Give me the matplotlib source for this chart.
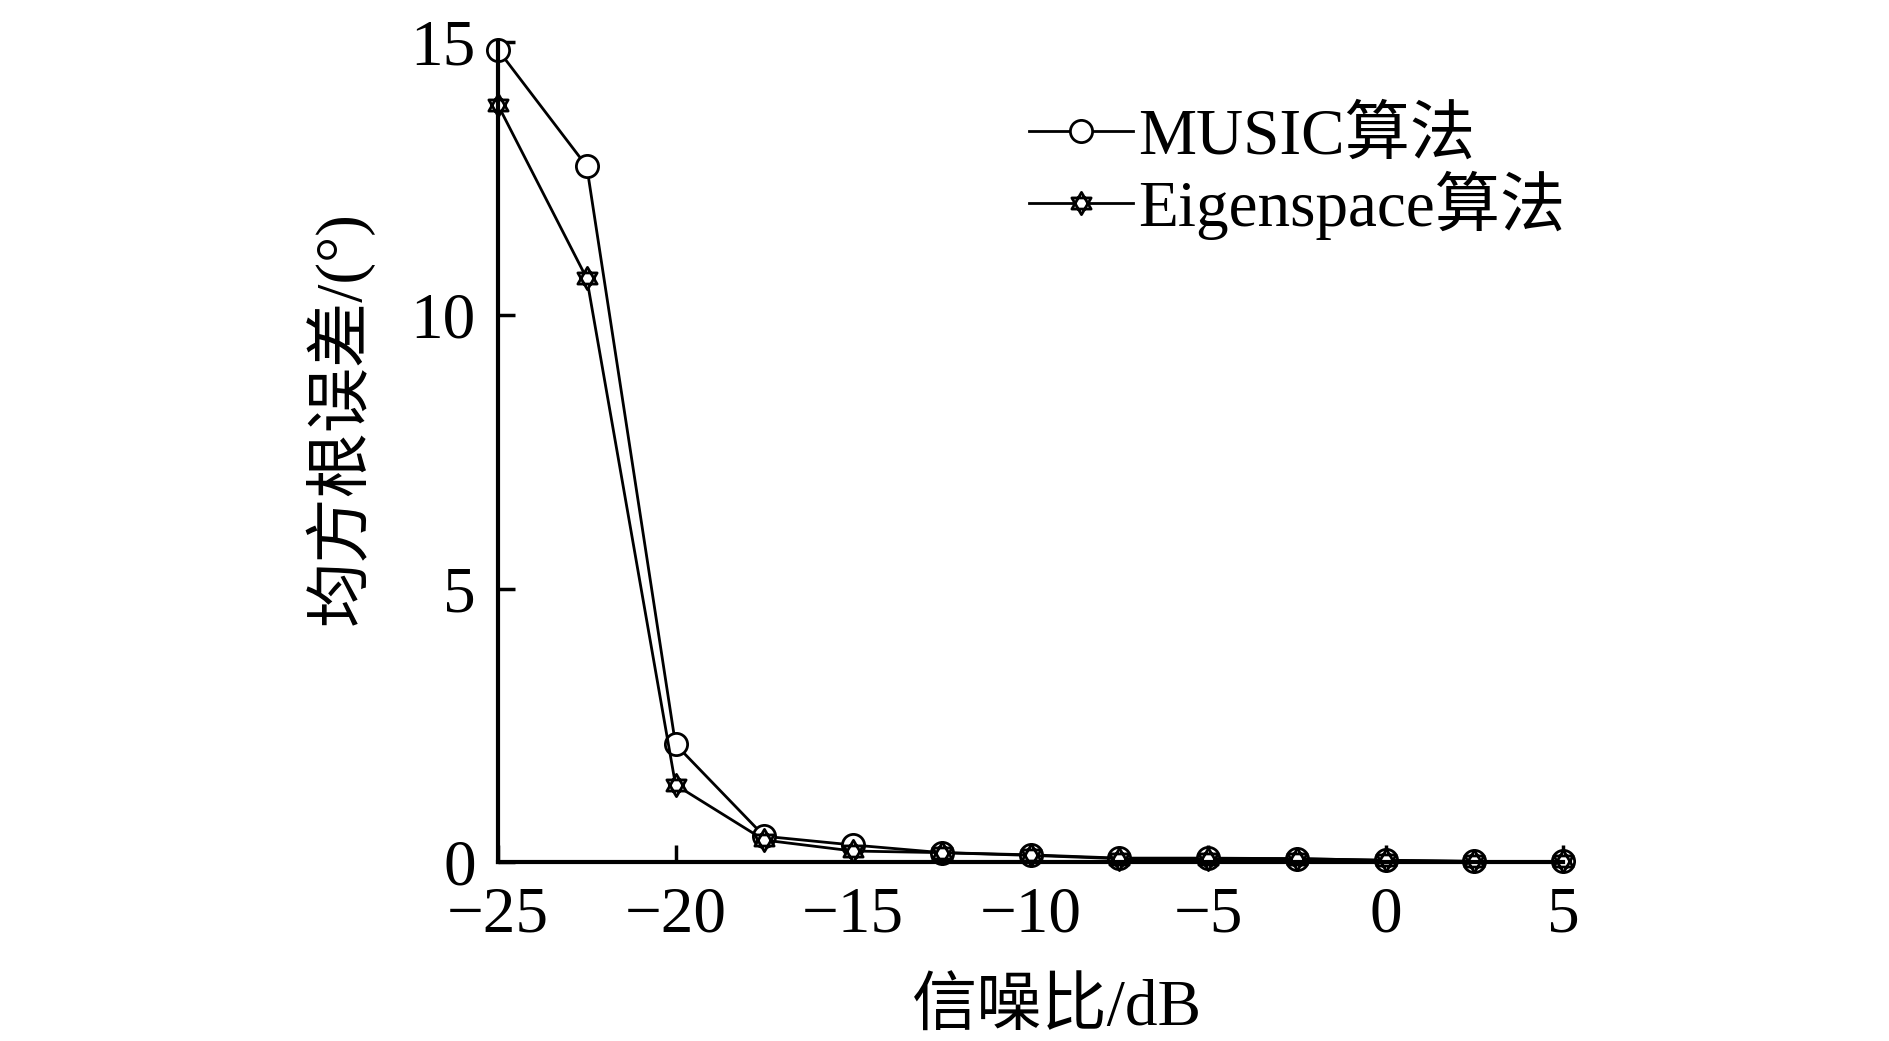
import matplotlib
matplotlib.use("Agg")
import matplotlib.pyplot as plt
from matplotlib.path import Path
import numpy as np

plt.rcParams['font.family'] = ['Liberation Serif', 'Noto Sans CJK SC', 'DejaVu Sans']
plt.rcParams['axes.unicode_minus'] = True

snr = [-25, -22.5, -20, -17.5, -15, -12.5, -10, -7.5, -5, -2.5, 0, 2.5, 5]
music = [14.85, 12.72, 2.15, 0.47, 0.31, 0.17, 0.13, 0.07, 0.07, 0.06, 0.03, 0.01, 0.01]
eigen = [13.84, 10.67, 1.41, 0.40, 0.20, 0.17, 0.12, 0.06, 0.06, 0.06, 0.03, 0.01, 0.01]
labels = ['MUSIC算法', 'Eigenspace算法']
xticks = [-25, -20, -15, -10, -5, 0, 5]
yticks = [0, 5, 10, 15]

# hexagram marker (two overlapping triangles)
ang_up = np.deg2rad([90, 210, 330, 90])
ang_dn = np.deg2rad([270, 30, 150, 270])
verts = list(zip(np.cos(ang_up), np.sin(ang_up))) + list(zip(np.cos(ang_dn), np.sin(ang_dn)))
codes = [Path.MOVETO, Path.LINETO, Path.LINETO, Path.CLOSEPOLY] * 2
hexagram = Path(verts, codes)

fig = plt.figure(figsize=(18.9, 10.41), dpi=100)
ax = fig.add_axes([0.2635, 0.172, 0.5635, 0.788])

ax.plot(snr, music, color='black', lw=2.0, marker='o', ms=16, mfc='white',
        mec='black', mew=2.0, label=labels[0], clip_on=False)
ax.plot(snr, eigen, color='black', lw=2.0, marker=hexagram, ms=16, mfc='white',
        mec='black', mew=2.0, label=labels[1], clip_on=False)

ax.set_xlim(-25, 5)
ax.set_ylim(0, 15)
ax.set_xticks(xticks)
ax.set_yticks(yticks)
ax.set_xticklabels([f'\u2212{abs(v)}' if v < 0 else str(v) for v in xticks])
for s in ['top', 'right']:
    ax.spines[s].set_visible(False)
for s in ['left', 'bottom']:
    ax.spines[s].set_linewidth(3)
ax.tick_params(direction='in', length=12, width=2.5, labelsize=47)
ax.tick_params(axis='x', pad=17)
ax.tick_params(axis='y', pad=16)

ax.set_xlabel('信噪比/dB', fontsize=47)
ax.set_ylabel('均方根误差/(°)', fontsize=47)
ax.xaxis.set_label_coords(0.525, -0.143)
ax.yaxis.set_label_coords(-0.117, 0.541)

leg = ax.legend(loc='upper left', bbox_to_anchor=(0.474, 0.952), frameon=False,
                fontsize=47, handlelength=1.6, handletextpad=0.08, labelspacing=0.05,
                borderaxespad=0)

fig.savefig('out.png', dpi=100)
